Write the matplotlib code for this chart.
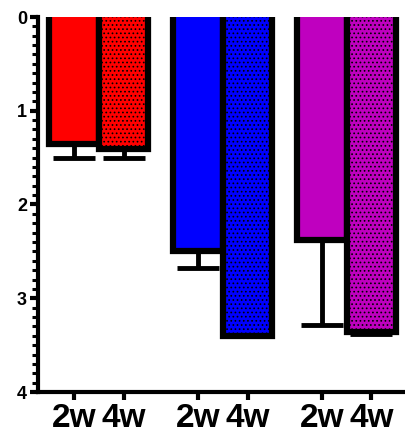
import numpy as np
import matplotlib.pyplot as plt
from matplotlib.ticker import MultipleLocator

# values (axis is inverted, bars hang from 0)
labels = ["2w", "4w", "2w", "4w", "2w", "4w"]
positions = [0, 1, 2.5, 3.5, 5, 6]
means = [1.36, 1.41, 2.50, 3.40, 2.38, 3.36]
errs = [0.14, 0.09, 0.18, 0.0, 0.91, 0.02]
colors = ["#ff0000", "#ff0000", "#0000ff", "#0000ff", "#bf00bf", "#bf00bf"]
hatches = [None, "....", None, "....", None, "...."]

plt.rcParams["hatch.color"] = "black"
plt.rcParams["hatch.linewidth"] = 0.7
plt.rcParams["font.family"] = ["Liberation Sans", "DejaVu Sans"]

fig = plt.figure(figsize=(4.06, 4.36), dpi=100)
ax = fig.add_axes([38 / 406, 1 - 392 / 436, 367 / 406, 375 / 436])

ax.errorbar(positions, means, yerr=[np.zeros(len(errs)), errs], fmt="none",
            ecolor="black", elinewidth=3.5, capsize=15, capthick=3.5, zorder=1)
# start the bars just above 0 so the top edge gets clipped like the original
start = -0.05
for x, m, c, h in zip(positions, means, colors, hatches):
    ax.bar(x, m - start, bottom=start, width=1.0, color=c, edgecolor="black",
           linewidth=4.5, hatch=h, zorder=2)

ax.set_ylim(4, 0)
ax.set_xlim(-0.73, 6.68)
ax.set_xticks(positions)
ax.set_xticklabels(labels, fontsize=24, fontweight="bold")
ax.set_yticks([0, 1, 2, 3, 4])
ax.set_yticklabels(["0", "1", "2", "3", "4"], fontsize=13, fontweight="bold")
ax.yaxis.set_minor_locator(MultipleLocator(0.1))

for s in ["top", "right"]:
    ax.spines[s].set_visible(False)
for s in ["left", "bottom"]:
    ax.spines[s].set_linewidth(3)
ax.tick_params(axis="y", which="major", length=6, width=3, pad=2)
ax.tick_params(axis="y", which="minor", length=4, width=2.2)
ax.tick_params(axis="x", length=6, width=3, pad=2)

fig.savefig("out.png", dpi=100)
